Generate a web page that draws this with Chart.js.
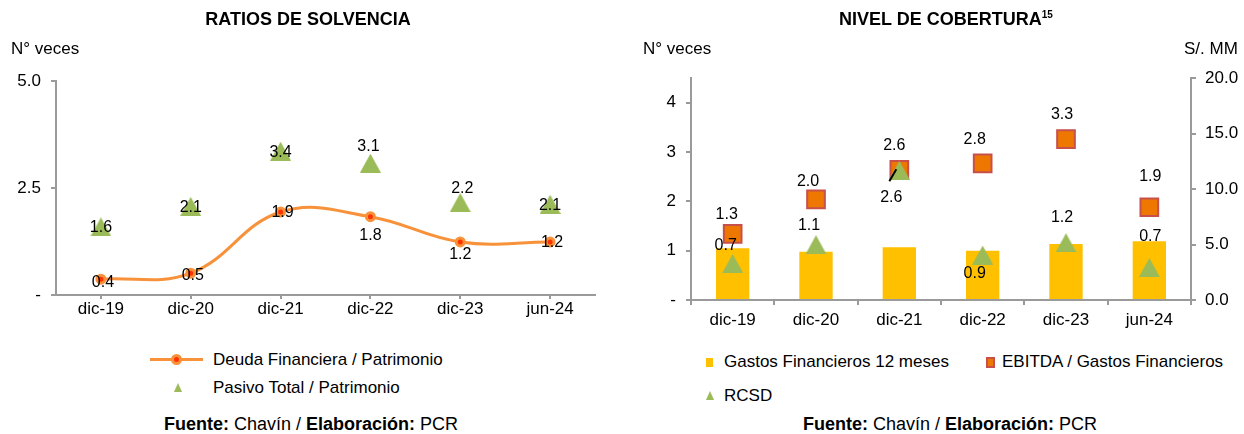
<!DOCTYPE html>
<html>
<head>
<meta charset="utf-8">
<script src="https://cdn.jsdelivr.net/npm/chart.js@4.4.1/dist/chart.umd.min.js"></script>
<style>
  body { margin: 0; background: #fff; }
  #page { position: relative; width: 1244px; height: 434px; overflow: hidden; font-family: "Liberation Sans", Arial, sans-serif; color: #000; }
  .txt { position: absolute; white-space: nowrap; font-size: 17px; line-height: 17px; }
  .foot { font-size: 18px; line-height: 18px; }
  .title { position: absolute; white-space: nowrap; font-size: 18px; line-height: 18px; font-weight: bold; transform: translateX(-50%); }
  .title sup { font-size: 10px; vertical-align: 7px; line-height: 0; }
  .center { transform: translateX(-50%); }
  canvas { position: absolute; top: 0; }
  .mk { position: absolute; }
</style>
</head>
<body>
<div id="page">
  <canvas id="solvencia" width="620" height="335" style="left:0"></canvas>
  <canvas id="cobertura" width="624" height="335" style="left:620px"></canvas>

  <div class="title" style="left:308px; top:10px">RATIOS DE SOLVENCIA</div>
  <div class="title" style="left:946px; top:10px">NIVEL DE COBERTURA<sup>15</sup></div>
  <div class="txt" style="left:11px; top:40px">N° veces</div>
  <div class="txt" style="left:643px; top:40px">N° veces</div>
  <div class="txt" style="left:1184px; top:40px">S/. MM</div>

  <!-- leyenda izquierda -->
  <div class="mk" style="left:150px; top:358px; width:53px; height:3px; background:#F7923A"></div>
  <div class="mk" style="left:171px; top:354px; width:5px; height:5px; border-radius:50%; background:#FF3300; border:3px solid #F7923A"></div>
  <div class="txt" style="left:213px; top:351px">Deuda Financiera / Patrimonio</div>
  <div class="mk" style="left:174px; top:383px; width:0; height:0; border-left:4px solid transparent; border-right:4px solid transparent; border-bottom:9px solid #9BBB59"></div>
  <div class="txt" style="left:213px; top:379px">Pasivo Total / Patrimonio</div>

  <!-- leyenda derecha -->
  <div class="mk" style="left:706px; top:358px; width:7px; height:9px; background:#FFC000"></div>
  <div class="txt" style="left:724px; top:353px">Gastos Financieros 12 meses</div>
  <div class="mk" style="left:986px; top:357px; width:5px; height:7px; background:#EE7700; border:2px solid #C8504B"></div>
  <div class="txt" style="left:1002px; top:353px">EBITDA / Gastos Financieros</div>
  <div class="mk" style="left:706px; top:391px; width:0; height:0; border-left:4px solid transparent; border-right:4px solid transparent; border-bottom:9px solid #9BBB59"></div>
  <div class="txt" style="left:724px; top:387px">RCSD</div>

  <div class="txt foot center" style="left:311px; top:415px"><b>Fuente:</b> Chavín / <b>Elaboración:</b> PCR</div>
  <div class="txt foot center" style="left:950px; top:415px"><b>Fuente:</b> Chavín / <b>Elaboración:</b> PCR</div>
</div>

<script>
// Periodos
const periodos = ["dic-19", "dic-20", "dic-21", "dic-22", "dic-23", "jun-24"];

// Ratios de solvencia (N° veces)
const deudaFinancieraPatrimonio = [0.37, 0.51, 1.94, 1.83, 1.24, 1.24];
const pasivoTotalPatrimonio = [1.59, 2.07, 3.36, 3.08, 2.16, 2.12];

// Nivel de cobertura
const gastosFinancieros12m = [4.66, 4.35, 4.75, 4.44, 5.04, 5.29]; // S/. MM
const ebitdaGastosFinancieros = [1.34, 2.04, 2.64, 2.77, 3.26, 1.88]; // N° veces
const rcsd = [0.74, 1.12, 2.63, 0.91, 1.16, 0.66]; // N° veces

const FONT = '"Liberation Sans", Arial, sans-serif';
const AXIS_GRAY = '#9A9A9A';

// triángulo centrado por su caja, como el marcador de Excel
function triangle(w, h, color) {
    const c = document.createElement('canvas');
    c.width = w; c.height = h;
    const g = c.getContext('2d');
    g.fillStyle = color;
    g.beginPath();
    g.moveTo(w / 2, 0);
    g.lineTo(w, h);
    g.lineTo(0, h);
    g.closePath();
    g.fill();
    return c;
}
const greenTriangle = triangle(21, 19, '#9BBB59');

// etiquetas de valores (con desplazamiento por punto)
const valueLabels = {
    id: 'valueLabels',
    afterDatasetsDraw(chart) {
        const ctx = chart.ctx;
        chart.data.datasets.forEach((ds, i) => {
            if (!ds.labelOffsets) return;
            const meta = chart.getDatasetMeta(i);
            ctx.save();
            ctx.font = '16px ' + FONT;
            ctx.fillStyle = '#000';
            ctx.textAlign = 'center';
            ctx.textBaseline = 'middle';
            meta.data.forEach((el, j) => {
                const [dx, dy] = ds.labelOffsets[j];
                ctx.fillText(ds.data[j].toFixed(1), el.x + dx, el.y + dy);
                const ld = ds.leaders && ds.leaders[j];
                if (ld) {
                    ctx.strokeStyle = '#000';
                    ctx.lineWidth = 2;
                    ctx.beginPath();
                    ctx.moveTo(el.x + ld[0], el.y + ld[1]);
                    ctx.lineTo(el.x + ld[2], el.y + ld[3]);
                    ctx.stroke();
                }
            });
            ctx.restore();
        });
    }
};

function axisGrid(offset, len) {
    return { display: true, drawOnChartArea: false, drawTicks: true, tickLength: len, offset: offset, color: AXIS_GRAY, lineWidth: 2 };
}
const axisBorder = { display: true, color: AXIS_GRAY, width: 2 };
const tickFont = { family: FONT, size: 17 };

// Ratios de solvencia
new Chart(document.getElementById('solvencia'), {
    type: 'line',
    data: {
        labels: periodos,
        datasets: [{
            label: 'Deuda Financiera / Patrimonio',
            data: deudaFinancieraPatrimonio,
            borderColor: '#F7923A',
            borderWidth: 3,
            tension: 0.4,
            pointRadius: 4,
            pointBorderWidth: 3,
            pointBackgroundColor: '#FF3300',
            pointBorderColor: '#F7923A',
            labelOffsets: [[2, 3], [2, 2], [2, 1], [0, 19], [0, 13], [2, 1]],
            order: 2
        }, {
            label: 'Pasivo Total / Patrimonio',
            data: pasivoTotalPatrimonio,
            showLine: false,
            pointStyle: greenTriangle,
            pointRadius: 10,
            labelOffsets: [[0, 1], [0, 1], [0, 1], [-2, -17], [2, -14], [0, 1]],
            order: 1
        }]
    },
    options: {
        responsive: false,
        devicePixelRatio: 1,
        animation: false,
        layout: { padding: { top: 81, right: 25, left: 0, bottom: 0 } },
        plugins: { legend: { display: false }, tooltip: { enabled: false } },
        scales: {
            x: {
                offset: true,
                grid: axisGrid(false, 4),
                border: axisBorder,
                ticks: { font: tickFont, color: '#000', padding: 0, maxRotation: 0 },
                afterFit: s => { s.height = 40; }
            },
            y: {
                min: 0, max: 5,
                grid: axisGrid(false, 5),
                border: axisBorder,
                ticks: { stepSize: 2.5, font: tickFont, color: '#000', padding: 10,
                    callback: v => v === 0 ? '-' : v.toFixed(1) },
                afterFit: s => { s.width = 56; }
            }
        }
    },
    plugins: [valueLabels]
});

// Nivel de cobertura
new Chart(document.getElementById('cobertura'), {
    type: 'bar',
    data: {
        labels: periodos,
        datasets: [{
            label: 'Gastos Financieros 12 meses',
            data: gastosFinancieros12m,
            backgroundColor: '#FFC000',
            barPercentage: 0.4,
            categoryPercentage: 1,
            yAxisID: 'y2',
            order: 3
        }, {
            type: 'line',
            label: 'EBITDA / Gastos Financieros',
            data: ebitdaGastosFinancieros,
            showLine: false,
            pointStyle: 'rect',
            pointRadius: 12.5,
            pointBorderWidth: 2,
            pointBackgroundColor: '#EE7700',
            pointBorderColor: '#C8504B',
            yAxisID: 'y',
            labelOffsets: [[-6, -19], [-8, -18], [-5, -24], [-8, -24], [-4, -25], [1, -31]],
            order: 2
        }, {
            type: 'line',
            label: 'RCSD',
            data: rcsd,
            showLine: false,
            pointStyle: greenTriangle,
            pointRadius: 10,
            yAxisID: 'y',
            labelOffsets: [[-7, -18], [-7, -19], [-8, 27], [-8, 18], [-4, -25], [1, -31]],
            leaders: [null, null, [-10, 11, -3, -1], null, null, null],
            order: 1
        }]
    },
    options: {
        responsive: false,
        devicePixelRatio: 1,
        animation: false,
        layout: { padding: { top: 78, right: 0, left: 0, bottom: 0 } },
        plugins: { legend: { display: false }, tooltip: { enabled: false } },
        scales: {
            x: {
                offset: true,
                grid: axisGrid(true, 5),
                border: axisBorder,
                ticks: { font: tickFont, color: '#000', padding: 5, maxRotation: 0 },
                afterFit: s => { s.height = 35; }
            },
            y: {
                position: 'left',
                min: 0, max: 4.5,
                grid: axisGrid(false, 5),
                border: axisBorder,
                ticks: { stepSize: 1, includeBounds: false, font: tickFont, color: '#000', padding: 10,
                    callback: v => v === 0 ? '-' : v },
                afterFit: s => { s.width = 71; }
            },
            y2: {
                position: 'right',
                min: 0, max: 20,
                grid: axisGrid(false, 5),
                border: axisBorder,
                ticks: { stepSize: 5, font: tickFont, color: '#000', padding: 9,
                    callback: v => v.toFixed(1) },
                afterFit: s => { s.width = 53; }
            }
        }
    },
    plugins: [valueLabels]
});
</script>
</body>
</html>
